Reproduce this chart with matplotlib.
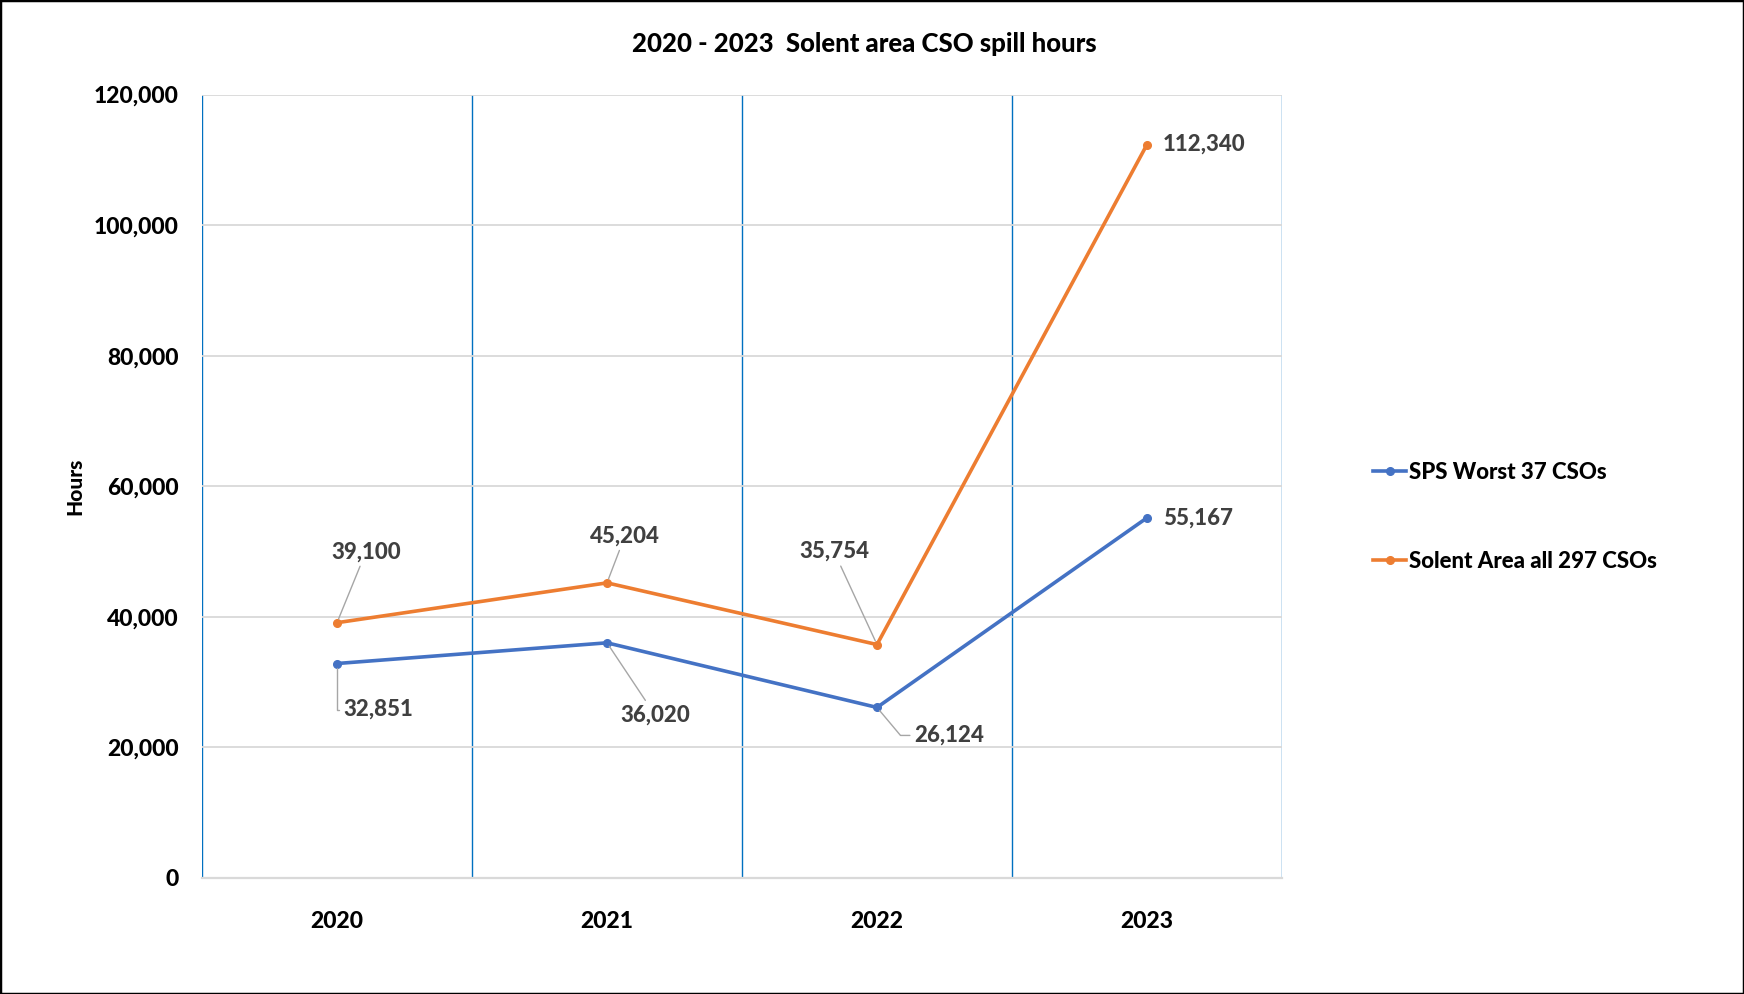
import matplotlib
matplotlib.use("Agg")
import matplotlib.pyplot as plt
from matplotlib.ticker import FuncFormatter, MultipleLocator
from matplotlib.patches import Rectangle

plt.rcParams['font.family'] = ['Lato', 'DejaVu Sans']

years = ["2020", "2021", "2022", "2023"]
sps_worst = [32851, 36020, 26124, 55167]
solent_all = [39100, 45204, 35754, 112340]
series_names = ["SPS Worst 37 CSOs", "Solent Area all 297 CSOs"]
title = "2020 - 2023  Solent area CSO spill hours"
ylabel = "Hours"

# label offsets (pixels) and leader style
sps_offsets = [((41, -46), 'center', 'angle,angleA=0,angleB=90'),
               ((48, -72), 'center', 'arc3'),
               ((72, -28), 'center', 'angle,angleA=0,angleB=-50'),
               ((16, 0), 'left', None)]
solent_offsets = [((29, 71), 'center', 'arc3'),
                  ((18, 47), 'center', 'arc3'),
                  ((-43, 93), 'center', 'arc3'),
                  ((16, 0), 'left', None)]

BLUE = '#4472C4'
ORANGE = '#ED7D31'
LABEL = '#404040'
W = 900

fig = plt.figure(figsize=(17.44, 9.94), dpi=100)
ax = fig.add_axes([202/1744, 1-878/994, (1282-202)/1744, (878-94.5)/994])

x = list(range(len(years)))
ax.plot(x, sps_worst, color=BLUE, lw=2.6, marker='o', ms=5.5, label=series_names[0], zorder=3)
ax.plot(x, solent_all, color=ORANGE, lw=2.6, marker='o', ms=5.5, label=series_names[1], zorder=3)

ax.set_xlim(-0.5, len(years) - 0.5)
ax.set_ylim(0, 120000)
ax.set_xticks(x)
ax.set_xticklabels(years)
ax.yaxis.set_major_locator(MultipleLocator(20000))
ax.yaxis.set_major_formatter(FuncFormatter(lambda v, p: f"{int(v):,}"))

for s in ['top', 'right', 'left']:
    ax.spines[s].set_visible(False)
ax.spines['bottom'].set_color('#D9D9D9')
ax.spines['bottom'].set_linewidth(1.6)

ax.grid(axis='y', color='#D9D9D9', lw=1.3, zorder=0)
for b in [i - 0.5 for i in range(len(years) + 1)]:
    ax.axvline(b, color='#0070C0', lw=1.0, zorder=1)

ax.tick_params(axis='both', length=0, labelsize=16.5)
ax.tick_params(axis='y', pad=17)
ax.tick_params(axis='x', pad=24)
for t in ax.get_xticklabels() + ax.get_yticklabels():
    t.set_fontweight(W)
    t.set_color('black')

def label_series(vals, offsets):
    for i, (v, (off, ha, cs)) in enumerate(zip(vals, offsets)):
        kw = {}
        if cs is not None:
            kw['arrowprops'] = dict(arrowstyle='-', color='#A6A6A6', lw=1.0,
                                    connectionstyle=cs, shrinkA=1, shrinkB=3)
        ax.annotate(f"{v:,}", xy=(i, v), xytext=off, textcoords='offset pixels',
                    ha=ha, va='center', fontsize=16, fontweight=W, color=LABEL,
                    zorder=4, **kw)

label_series(sps_worst, sps_offsets)
label_series(solent_all, solent_offsets)

fig.text(864/1744, 1-44.5/994, title, ha='center', va='center',
         fontsize=18.5, fontweight=W, color='black')
fig.text(75/1744, 1-486/994, ylabel, ha='center', va='center', rotation=90,
         fontsize=15, fontweight=W, color='black')

leg = fig.legend(loc='center left', bbox_to_anchor=(1353/1744, 1-517/994),
                 frameon=False, handlelength=1.5, handletextpad=0.1,
                 labelspacing=3.05, prop={'size': 16, 'weight': W})

fig.patches.append(Rectangle((0, 0), 1, 1, transform=fig.transFigure,
                             fill=False, edgecolor='black', lw=2.5))

fig.savefig('out.png', dpi=100)
